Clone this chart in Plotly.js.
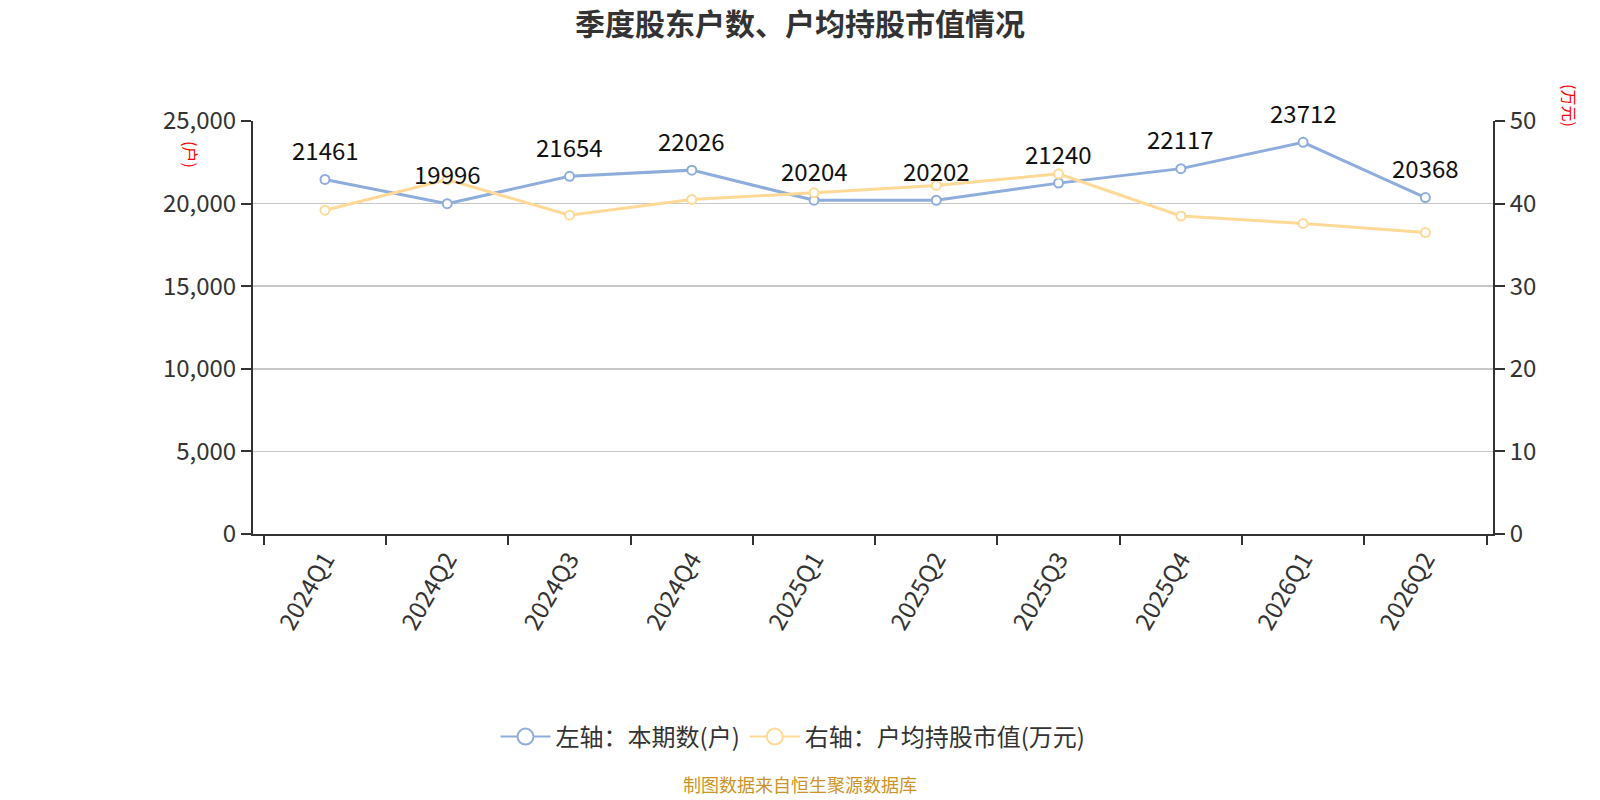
<!DOCTYPE html>
<html>
<head>
<meta charset="utf-8">
<script src="https://cdn.plot.ly/plotly-3.0.1.min.js"></script>
<style>
  html, body { margin: 0; padding: 0; background: #fff; }
  #chart { width: 1600px; height: 800px; }
</style>
</head>
<body>
<div id="chart"></div>
<script>
// quarters on the x axis
var quarters = ['2024Q1','2024Q2','2024Q3','2024Q4','2025Q1','2025Q2','2025Q3','2025Q4','2026Q1','2026Q2'];
// left axis: shareholder count (户)
var holders = [21461, 19996, 21654, 22026, 20204, 20202, 21240, 22117, 23712, 20368];
// right axis: avg holding value per holder (万元)
var avgValue = [39.2, 42.9, 38.6, 40.5, 41.3, 42.2, 43.6, 38.5, 37.6, 36.5];

var blue = 'rgb(142,173,220)';
var yellow = 'rgb(255,217,150)';
var font = '"Noto Sans CJK SC", "Noto Sans", sans-serif';

var data = [
    {
        x: quarters,
        y: holders,
        name: '左轴：本期数(户)',
        type: 'scatter',
        mode: 'lines+markers',
        showlegend: false,
        cliponaxis: false,
        line: {color: blue, width: 3},
        marker: {size: 9, color: '#fff', line: {color: blue, width: 2}},
        yaxis: 'y'
    },
    {
        x: quarters,
        y: avgValue,
        name: '右轴：户均持股市值(万元)',
        type: 'scatter',
        mode: 'lines+markers',
        showlegend: false,
        cliponaxis: false,
        line: {color: yellow, width: 3},
        marker: {size: 9, color: '#fff', line: {color: yellow, width: 2}},
        yaxis: 'y2'
    },
    // legend-only entries so the legend circles come out bigger
    {
        x: [quarters[0]], y: [null],
        name: '左轴：本期数(户)',
        type: 'scatter', mode: 'lines+markers',
        line: {color: blue, width: 2},
        marker: {size: 16, color: '#fff', line: {color: blue, width: 2}},
        hoverinfo: 'skip'
    },
    {
        x: [quarters[0]], y: [null],
        name: '右轴：户均持股市值(万元)',
        type: 'scatter', mode: 'lines+markers',
        line: {color: yellow, width: 2},
        marker: {size: 16, color: '#fff', line: {color: yellow, width: 2}},
        hoverinfo: 'skip'
    }
]

// value labels sit ~30px above each point
var labels = quarters.map((q, i) => ({
    x: q,
    y: holders[i],
    xref: 'x', yref: 'y',
    text: String(holders[i]),
    showarrow: false,
    yshift: 30,
    xanchor: 'center', yanchor: 'middle',
    font: {size: 24, color: '#111', family: font}
}))

var layout = {
    width: 1600,
    height: 800,
    margin: {l: 253, r: 107, t: 121, b: 266},
    paper_bgcolor: '#fff',
    plot_bgcolor: '#fff',
    font: {family: font, color: '#333', size: 22},
    title: {
        text: '<b>季度股东户数、户均持股市值情况</b>',
        x: 0.5, xanchor: 'center', y: 0.97, yanchor: 'middle',
        font: {size: 30, color: '#333', family: font}
    },
    showlegend: true,
    legend: {
        orientation: 'h',
        x: 0.4355, xanchor: 'center',
        y: -0.4915, yanchor: 'middle',
        font: {size: 24, color: '#333'},
        itemwidth: 50
    },
    xaxis: {
        type: 'category',
        tickangle: -60,
        tickson: 'boundaries',
        ticks: 'outside',
        ticklen: 9,
        tickwidth: 2,
        tickcolor: '#333',
        showline: true,
        linecolor: '#333',
        linewidth: 2,
        showgrid: false,
        tickfont: {size: 24, color: '#333'}
    },
    yaxis: {
        range: [0, 25000],
        dtick: 5000,
        tickformat: ',d',
        ticks: 'outside',
        ticklen: 10,
        tickwidth: 2,
        tickcolor: '#333',
        showline: true,
        linecolor: '#333',
        linewidth: 2,
        gridcolor: '#c8c8c8',
        gridwidth: 1.5,
        zeroline: false,
        tickfont: {size: 24, color: '#333'}
    },
    yaxis2: {
        overlaying: 'y',
        side: 'right',
        range: [0, 50],
        dtick: 10,
        ticks: 'outside',
        ticklen: 10,
        tickwidth: 2,
        tickcolor: '#333',
        showline: true,
        linecolor: '#333',
        linewidth: 2,
        showgrid: false,
        zeroline: false,
        tickfont: {size: 24, color: '#333'}
    },
    annotations: labels.concat([
        {
            text: '(户)', textangle: 90,
            xref: 'paper', yref: 'paper', x: -0.0502, y: 0.918,
            xanchor: 'center', yanchor: 'middle', showarrow: false,
            font: {size: 16, color: 'red'}
        },
        {
            text: '(万元)', textangle: 90,
            xref: 'paper', yref: 'paper', x: 1.0627, y: 1.037,
            xanchor: 'center', yanchor: 'middle', showarrow: false,
            font: {size: 16, color: 'red'}
        },
        {
            text: '制图数据来自恒生聚源数据库',
            xref: 'paper', yref: 'paper', x: 0.441, y: -0.605,
            xanchor: 'center', yanchor: 'middle', showarrow: false,
            font: {size: 18, color: 'rgb(204,148,40)'}
        }
    ])
}

Plotly.newPlot('chart', data, layout, {displayModeBar: false, staticPlot: true});
</script>
</body>
</html>
